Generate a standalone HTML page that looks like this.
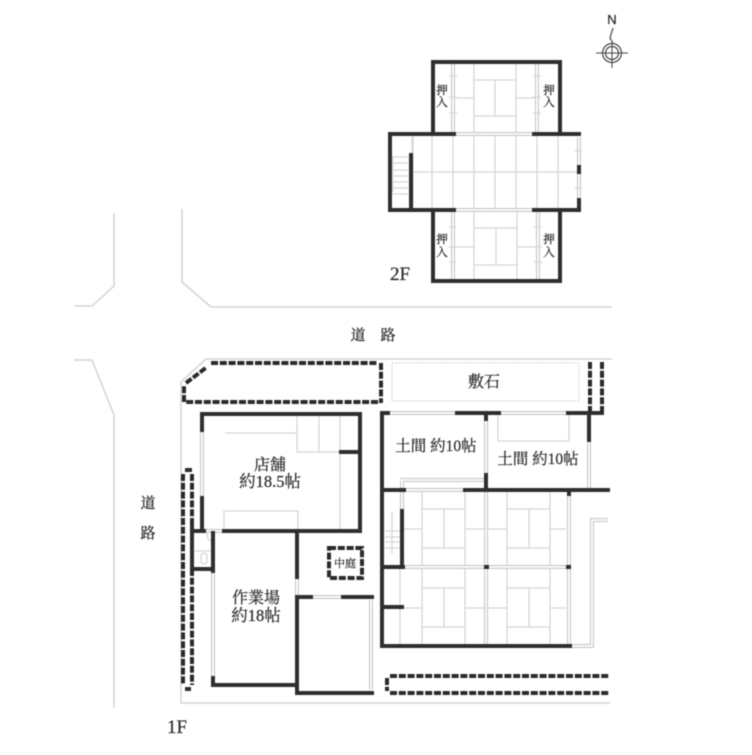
<!DOCTYPE html>
<html>
<head>
<meta charset="utf-8">
<style>
html,body{margin:0;padding:0;background:#fff;}
svg{display:block;filter:blur(0.45px);}
text{font-family:"Liberation Serif","Noto Serif CJK SC","Noto Serif CJK JP",serif;fill:#2c2c2c;stroke:#2c2c2c;stroke-width:0.25;text-anchor:middle;}
.t{fill:none;stroke:#d6d6d6;stroke-width:1.3;}
.r{fill:none;stroke:#d4d4d4;stroke-width:1.5;}
.w{fill:none;stroke:#2e2e2e;stroke-width:4;stroke-linecap:square;}
.wb{fill:none;stroke:#2e2e2e;stroke-width:4;stroke-linecap:butt;}
.d{fill:none;stroke:#2a2a2a;stroke-width:4;stroke-dasharray:7 1.8;}
.o{fill:none;stroke:#c6c6c6;stroke-width:4;}
.i{fill:none;stroke:#fff;stroke-width:1.8;}
</style>
</head>
<body>
<svg width="752" height="755" viewBox="0 0 752 755" xmlns="http://www.w3.org/2000/svg">
<defs>
<path id="dbl" d="M453 63V133M537 63V133M453 212V279M538 212V279M456 134H533M456 210H533M579 137V165M579 174V200
M389 413H457M499 413H568M486 420V474M486 491V645M589 440V488M404 490H465M400 480H486M402 480V510M404 567H484M488 567H566M569 495V645M571 646H592V520H608M204 531H224M213 572V678M297 577V597M312 597H343M371 600V690M202 430V498"/>
</defs>

<!-- double light lines -->
<use href="#dbl" class="o"/>
<use href="#dbl" class="i"/>

<!-- roads / lot -->
<path class="r" d="M114 213V286L92 306H74"/>
<path class="r" d="M182 209V282L211 307H612"/>
<path class="r" d="M74 360H92L114 415V708"/>
<path class="r" d="M612 359H206L181 382V703H610"/>

<!-- 2F tatami -->
<path class="t" d="M474 62V133M516 62V133M474 80H516M474 116H516M495 80V116M456 98H474M516 98H535"/>
<path class="t" d="M413 136V208M432 136V208M453 136V208M474 136V208M495 136V208M516 136V208M537 136V208M558 136V208M413 172H578"/>
<path class="t" d="M474 212V279M517 212V279M474 228H517M474 265H517M496 228V265M455 247H474M517 247H535"/>
<path class="t" d="M412 137V154M393 156V192M393 157H408M393 163H408M393 170H408M393 176H408M393 182H408M393 188H408M393 194H408"/>
<path class="t" d="M449 76H457M449 97H457M449 113H457M533 76H541M533 97H541M533 113H541M449 227H456M449 247H456M449 262H456M534 227H542M534 247H542M534 262H542M575 151H582M575 188H582"/>

<!-- 2F walls -->
<path class="w" d="M433 133V62H560V133M390 134V210H454M390 134H454M534 134H579M579 200V210H534M433 211V281H560V211M411 155V209"/>
<path class="wb" d="M579 165V174"/>

<!-- compass -->
<g fill="none" stroke="#444">
<circle cx="612" cy="53" r="9.5" stroke-width="1.2"/>
<circle cx="612" cy="53" r="6.5" stroke-width="1.2"/>
<path stroke-width="1" d="M596 53H628M612 44V68"/>
<path stroke-width="1.2" d="M613 28L610 38L613 43"/>
</g>

<!-- 1F light -->
<path class="t" d="M422 492V566M465 492V566M422 509H465M422 548H465M444 509V548M404 529H422M465 529H484"/>
<path class="t" d="M507 492V566M550 492V566M507 509H550M507 548H550M529 509V548M488 529H507M550 529H566"/>
<path class="t" d="M400 569V645M422 569V645M465 569V645M422 588H465M422 627H465M444 588V627M400 608H422M465 608H484"/>
<path class="t" d="M507 569V645M550 569V645M507 588H550M507 627H550M529 588V627M488 608H507M550 608H566"/>
<path class="t" d="M498 415V441H569V415"/>
<path class="t" d="M385 531H401M385 537H401M385 542H401M385 548H401M392 512V554"/>
<path class="t" d="M297 415V452M319 415V452M340 415V529M297 452H340M225 433H297M224 531V511H298V531"/>
<path class="t" d="M208 531C206 537 208 541 213 541M195 551H212"/>
<rect x="201" y="553" width="6" height="11" rx="3" class="t"/>

<!-- 1F walls -->
<path class="w" d="M382 415V646H570M382 413H388M457 413H499M568 413H602M486 413V419M486 475V490M589 413V440M382 490H404M465 490H608M402 511V567M382 567H403M382 607H402M569 491V494"/>
<path class="wb" stroke-width="5" d="M484 567H489M566 567H571"/>
<path class="w" d="M202 430V414H360V531H224M341 452H360M202 498V531M193 531H204M297 533V577M297 597V693H372M297 597H311M343 597H372M213 685H297M213 678V685M213 533V571M193 569H213M192 527V569"/>

<!-- dashed walls -->
<path class="d" d="M211 363H378M381 363V403M378 402H186M184 402V386M186 383L207 367"/>
<path class="d" d="M590 362V412M602 362V412"/>
<path class="d" d="M183 474V685M192 474V527M192 569V685"/>
<path class="wb" d="M185 470H192M185 689H191"/>
<path class="d" d="M329 548H362V578H329Z"/>
<path class="d" d="M390 676H609M390 693H609M387 678V691"/>
<rect x="392" y="363" width="187" height="38" fill="none" stroke="#c8c8c8" stroke-width="1" stroke-dasharray="1.5 1.5"/>

<!-- labels -->
<text x="612" y="24" font-size="13" style="font-family:'Liberation Sans',sans-serif">N</text>
<text x="442" y="94" font-size="11.5">押</text>
<text x="442" y="106" font-size="11.5">入</text>
<text x="549" y="94" font-size="11.5">押</text>
<text x="549" y="106" font-size="11.5">入</text>
<text x="442" y="243" font-size="11.5">押</text>
<text x="442" y="256" font-size="11.5">入</text>
<text x="549" y="243" font-size="11.5">押</text>
<text x="549" y="256" font-size="11.5">入</text>
<text x="400" y="280" font-size="19">2F</text>
<text x="177" y="733" font-size="19">1F</text>
<text x="358" y="340" font-size="15">道</text>
<text x="388" y="340" font-size="15">路</text>
<text x="148" y="508" font-size="15">道</text>
<text x="148" y="538" font-size="15">路</text>
<text x="484" y="387" font-size="16">敷石</text>
<text x="436" y="451" font-size="15.5">土間 約10帖</text>
<text x="538" y="464" font-size="15.5">土間 約10帖</text>
<text x="270" y="470" font-size="16">店舗</text>
<text x="270" y="487" font-size="16.5">約18.5帖</text>
<text x="256" y="603" font-size="16">作業場</text>
<text x="256" y="621" font-size="16.5">約18帖</text>
<text x="345" y="567" font-size="11">中庭</text>
</svg>
</body>
</html>
